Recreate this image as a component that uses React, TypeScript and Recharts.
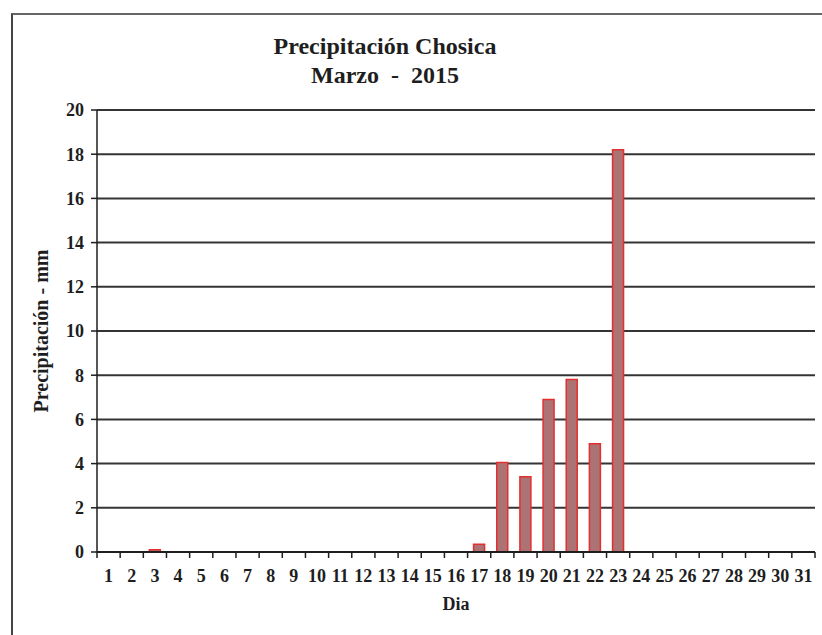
import { Bar, BarChart, CartesianGrid, Label, XAxis, YAxis } from 'recharts';

const days = Array.from({ length: 31 }, (_, i) => String(i + 1));

// precipitation in mm per day, March 2015
const rain = [
  0, 0, 0.1, 0, 0, 0, 0, 0, 0, 0, 0, 0, 0, 0, 0, 0, 0.35, 4.05, 3.4, 6.9, 7.8, 4.9, 18.2, 0, 0, 0,
  0, 0, 0, 0, 0,
];

const yTicks = [0, 2, 4, 6, 8, 10, 12, 14, 16, 18, 20];

const data = days.map((day, i) => ({ day, rain: rain[i] }));

const serif = '"Liberation Serif", "Times New Roman", serif';
const ink = '#1e1e1e';

// tick label plus a small tick mark on the right edge of the category
function DayTick(props: any) {
  const { x, y, payload, index } = props;
  const half = payload?.offset ?? 11.6;
  return (
    <g>
      {index === 0 && <line x1={x - half} x2={x - half} y1={y - 8} y2={y - 2} stroke={ink} strokeWidth={1.5} />}
      <line x1={x + half} x2={x + half} y1={y - 8} y2={y - 2} stroke={ink} strokeWidth={1.5} />
      <text x={x} y={y + 22} textAnchor="middle" fill={ink} fontFamily={serif} fontWeight="bold" fontSize={18}>
        {payload.value}
      </text>
    </g>
  );
}

export default function App() {
  return (
    <div style={{ position: 'absolute', left: 0, top: 0, width: 822, height: 635, background: '#fff', overflow: 'hidden' }}>
      <div
        style={{
          position: 'absolute',
          left: 11,
          top: 13,
          width: 830,
          height: 640,
          borderLeft: '2px solid #444',
          borderTop: '2px solid #666',
        }}
      />
      <div
        style={{
          position: 'absolute',
          left: 0,
          top: 32,
          width: 770,
          textAlign: 'center',
          fontFamily: serif,
          fontWeight: 'bold',
          fontSize: 24,
          lineHeight: '29px',
          color: ink,
        }}
      >
        <div>Precipitación Chosica</div>
        <div>Marzo&nbsp; -&nbsp; 2015</div>
      </div>
      <BarChart
        width={822}
        height={635}
        data={data}
        margin={{ top: 110, right: 7, left: 37, bottom: 53 }}
        barSize={11}
        style={{ position: 'absolute', left: 0, top: 0 }}
      >
        <CartesianGrid vertical={false} stroke={ink} strokeWidth={2} strokeOpacity={0.9} />
        <XAxis
          dataKey="day"
          interval={0}
          tickLine={false}
          axisLine={{ stroke: ink, strokeWidth: 2 }}
          tick={<DayTick />}
          height={30}
        >
          <Label
            value="Dia"
            position="insideBottom"
            offset={-28}
            fill={ink}
            style={{ fontFamily: serif, fontWeight: 'bold', fontSize: 18 }}
          />
        </XAxis>
        <YAxis
          domain={[0, 20]}
          ticks={yTicks}
          interval={0}
          width={60}
          tickSize={6}
          tickMargin={7}
          tickLine={{ stroke: ink, strokeWidth: 1.5 }}
          axisLine={{ stroke: ink, strokeWidth: 1.5 }}
          tick={{ fill: ink, fontFamily: serif, fontWeight: 'bold', fontSize: 18 }}
        >
          <Label
            value="Precipitación - mm"
            angle={-90}
            position="insideLeft"
            offset={4}
            fill={ink}
            style={{ textAnchor: 'middle', fontFamily: serif, fontWeight: 'bold', fontSize: 20 }}
          />
        </YAxis>
        <Bar dataKey="rain" fill="#ad7274" stroke="#e2302f" strokeWidth={1.5} isAnimationActive={false} />
      </BarChart>
    </div>
  );
}
